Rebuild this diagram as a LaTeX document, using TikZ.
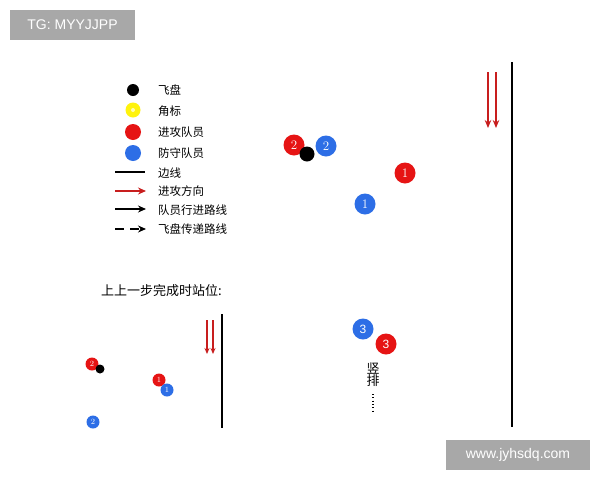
\documentclass[tikz,border=0pt]{standalone}
\usepackage{fontspec}
\newfontfamily\cjk{Noto Sans CJK SC}
\newfontfamily\lsans{Liberation Sans}
\usetikzlibrary{arrows.meta}
\definecolor{pred}{RGB}{230,20,20}
\definecolor{pblue}{RGB}{45,110,230}
\definecolor{wm}{RGB}{168,168,168}
\definecolor{arrred}{RGB}{200,30,30}
\tikzset{
  red player/.style={circle,fill=pred,inner sep=0pt,minimum size=#1,text=white,font=\fontsize{13}{13}\selectfont},
  blue player/.style={circle,fill=pblue,inner sep=0pt,minimum size=#1,text=white,font=\fontsize{13}{13}\selectfont},
  disc/.style={circle,fill=black,inner sep=0pt,minimum size=#1},
  lbl/.style={anchor=west,font=\cjk\fontsize{11.5}{11.5}\selectfont,inner sep=0pt},
  watermark/.style={fill=wm,text=white,font=\lsans\fontsize{14}{14}\selectfont,inner sep=0pt},
  attack/.style={draw=arrred,line width=1.5pt,-{Stealth[length=8pt,width=6.5pt]}},
  sideline/.style={draw=black,line width=1.4pt},
  legtip/.style={-{Stealth[length=8pt,width=7pt]}},
}
\begin{document}
\begin{tikzpicture}[x=1pt,y=-1pt]
\useasboundingbox[fill=white] (0,0) rectangle (600,480);
% watermarks
\node[watermark,minimum width=125pt,minimum height=30pt] (wm1) at (72.5,25) {TG: MYYJJPP};
\node[watermark,minimum width=144pt,minimum height=30pt] (wm2) at (518,455) {www.jyhsdq.com};
% legend
\node[disc=12pt] (lg1) at (133,90) {};
\node[circle,inner sep=0pt,minimum size=15pt,fill=yellow!95!white] (lg2) at (133,110) {};
\node[circle,inner sep=0pt,minimum size=4pt,fill=yellow!30!white] (lg2c) at (133,110) {};
\node[circle,fill=pred,inner sep=0pt,minimum size=16pt] (lg3) at (133,132) {};
\node[circle,fill=pblue,inner sep=0pt,minimum size=16pt] (lg4) at (133,153) {};
\coordinate (l5a) at (115,172); \coordinate (l5b) at (145,172);
\draw[line width=1.4pt] (l5a) -- (l5b);
\coordinate (l6a) at (115,191); \coordinate (l6b) at (146,191);
\draw[arrred,line width=1.4pt,legtip] (l6a) -- (l6b);
\coordinate (l7a) at (115,209); \coordinate (l7b) at (146,209);
\draw[line width=1.4pt,legtip] (l7a) -- (l7b);
\coordinate (l8a) at (115,229); \coordinate (l8b) at (146,229);
\draw[line width=1.4pt,dash pattern=on 9pt off 6pt,legtip] (l8a) -- (l8b);
\node[lbl] (t1) at (158,90) {飞盘};
\node[lbl] (t2) at (158,111) {角标};
\node[lbl] (t3) at (158,132) {进攻队员};
\node[lbl] (t4) at (158,153) {防守队员};
\node[lbl] (t5) at (158,173) {边线};
\node[lbl] (t6) at (158,191) {进攻方向};
\node[lbl] (t7) at (158,210) {队员行进路线};
\node[lbl] (t8) at (158,229) {飞盘传递路线};
% main field
\coordinate (sl1) at (512,62); \coordinate (sl2) at (512,427);
\draw[sideline] (sl1) -- (sl2);
\coordinate (a1s) at (488,72); \coordinate (a1e) at (488,128);
\coordinate (a2s) at (496,72); \coordinate (a2e) at (496,128);
\draw[attack] (a1s) -- (a1e);
\draw[attack] (a2s) -- (a2e);
\node[red player=21pt] (r2) at (294,145) {2};
\node[disc=15pt] (fd) at (307,154) {};
\node[blue player=21pt] (b2) at (326,146) {2};
\node[red player=21pt] (r1) at (405,173) {1};
\node[blue player=21pt] (b1) at (365,204) {1};
\node[blue player=21pt,font=\lsans\fontsize{12}{12}\selectfont] (b3) at (363,329) {3};
\node[red player=21pt,font=\lsans\fontsize{12}{12}\selectfont] (r3) at (386,344) {3};
\node[font=\cjk\fontsize{13}{13}\selectfont,inner sep=0pt,align=center] (sp) at (373,375) {竖\\[-1pt]排};
\coordinate (dt1) at (373,394); \coordinate (dt2) at (373,412);
\draw[line width=1.1pt,dash pattern=on 1.1pt off 2.2pt] (dt1) -- (dt2);
% previous-step caption
\node[font=\cjk\fontsize{13}{13}\selectfont,anchor=west,inner sep=0pt] (cap) at (101,291) {上上一步完成时站位:};
% small field
\coordinate (ss1) at (222,314); \coordinate (ss2) at (222,428);
\draw[sideline,line width=1.2pt] (ss1) -- (ss2);
\coordinate (sa1s) at (207,320); \coordinate (sa1e) at (207,354);
\coordinate (sa2s) at (213,320); \coordinate (sa2e) at (213,354);
\draw[attack,line width=1.2pt,-{Stealth[length=6pt,width=5pt]}] (sa1s) -- (sa1e);
\draw[attack,line width=1.2pt,-{Stealth[length=6pt,width=5pt]}] (sa2s) -- (sa2e);
\node[red player=13pt,font=\fontsize{8}{8}\selectfont] (sr2) at (92,364) {2};
\node[disc=9pt] (sfd) at (100,369) {};
\node[red player=13pt,font=\fontsize{8}{8}\selectfont] (sr1) at (159,380) {1};
\node[blue player=13pt,font=\fontsize{8}{8}\selectfont] (sb1) at (167,390) {1};
\node[blue player=13pt,font=\fontsize{8}{8}\selectfont] (sb2) at (93,422) {2};
\end{tikzpicture}
\end{document}
